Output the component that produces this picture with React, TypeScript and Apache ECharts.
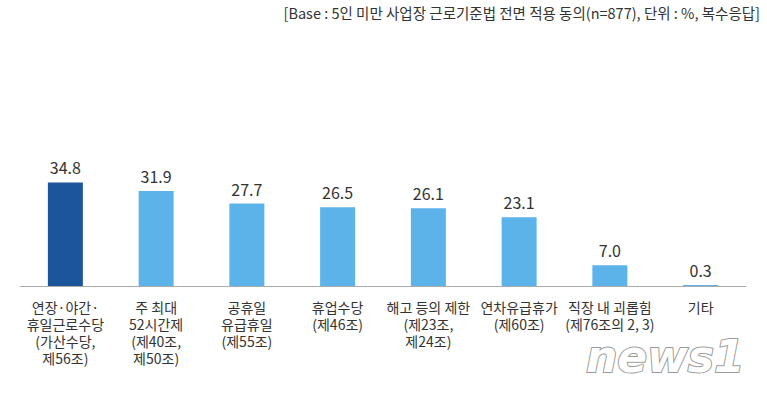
import React, { useEffect, useRef } from "react";
import * as echarts from "echarts";

const categories = [
  "연장·야간·\n휴일근로수당\n(가산수당,\n제56조)",
  "주 최대\n52시간제\n(제40조,\n제50조)",
  "공휴일\n유급휴일\n(제55조)",
  "휴업수당\n(제46조)",
  "해고 등의 제한\n(제23조,\n제24조)",
  "연차유급휴가\n(제60조)",
  "직장 내 괴롭힘\n(제76조의 2, 3)",
  "기타",
];
const values = [34.8, 31.9, 27.7, 26.5, 26.1, 23.1, 7.0, 0.3];
const subtitle = "[Base : 5인 미만 사업장 근로기준법 전면 적용 동의(n=877), 단위 : %, 복수응답]";

const FONT = "'Noto Sans CJK KR', 'Noto Sans', sans-serif";

export default function App() {
  const ref = useRef<HTMLDivElement>(null);
  useEffect(() => {
    if (!ref.current) return;
    const chart = echarts.init(ref.current, null, { renderer: "svg" });
    chart.setOption({
      animation: false,
      backgroundColor: "#ffffff",
      title: {
        text: subtitle,
        right: 2,
        top: 0,
        textStyle: { fontFamily: FONT, fontSize: 14.5, fontWeight: "normal", color: "#333" },
      },
      grid: { left: 20, right: 21, top: 167, bottom: 109, containLabel: false },
      xAxis: {
        type: "category",
        data: categories,
        axisLine: { lineStyle: { color: "#aaaaaa", width: 1 } },
        axisTick: { show: false },
        axisLabel: {
          interval: 0,
          margin: 12,
          fontFamily: FONT,
          fontSize: 14,
          lineHeight: 17,
          color: "#333",
        },
      },
      yAxis: {
        type: "value",
        min: 0,
        max: 40,
        show: false,
      },
      series: [
        {
          type: "bar",
          barWidth: 35,
          data: values.map((v, i) => ({
            value: v,
            itemStyle: { color: i === 0 ? "#1c559c" : "#5cb3ea" },
          })),
          label: {
            show: true,
            position: "top",
            distance: 7,
            formatter: (p: any) => Number(p.value).toFixed(1),
            fontFamily: FONT,
            fontSize: 16,
            color: "#333",
          },
        },
      ],
      graphic: [
        {
          type: "text",
          left: 585,
          top: 333,
          style: {
            text: "news1",
            fontFamily: "'DejaVu Sans', sans-serif",
            fontSize: 44,
            fontStyle: "italic",
            fontWeight: "bold",
            fill: "#ffffff",
            stroke: "#9a9a9a",
            lineWidth: 2,
          },
        },
      ],
    });
    return () => chart.dispose();
  }, []);
  return (
    <div
      ref={ref}
      style={{ position: "fixed", left: 0, top: 0, width: 767, height: 395 }}
    />
  );
}
